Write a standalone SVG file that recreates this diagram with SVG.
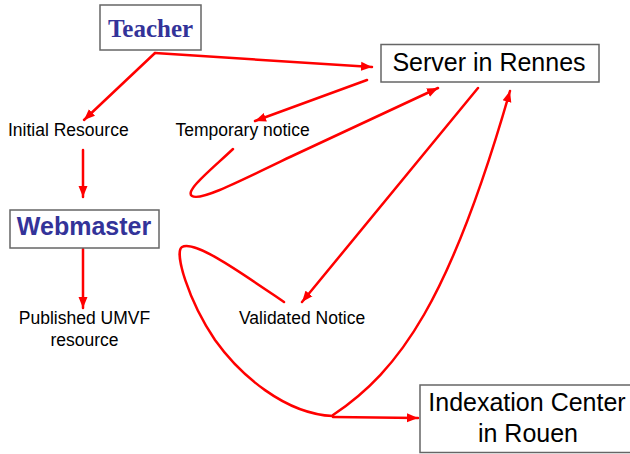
<svg xmlns="http://www.w3.org/2000/svg" width="630" height="454" viewBox="0 0 630 454">
<style>
.box{fill:#fff;stroke:#666;stroke-width:1.5}
.title{font-family:"Liberation Sans",Arial,sans-serif;font-size:25px;fill:#000}
.lbl{font-family:"Liberation Sans",Arial,sans-serif;font-size:17.5px;fill:#000}
.blue{fill:#333399;font-weight:bold}
.c{fill:none;stroke:#ff0000;stroke-width:2.5;stroke-linecap:round;stroke-linejoin:round}
</style>
<defs>
<marker id="ah" markerUnits="userSpaceOnUse" markerWidth="12" markerHeight="10" refX="11" refY="5" orient="auto">
<path d="M0,0.5 L11,5 L0,9.5 z" fill="#ff0000"/>
</marker>
</defs>
<rect width="630" height="454" fill="#fff"/>
<g id="connectors">
<path class="c" d="M155,53 L372,67" marker-end="url(#ah)"/>
<path class="c" d="M155,53 L84,120" marker-end="url(#ah)"/>
<path class="c" d="M83,150 L83,197" marker-end="url(#ah)"/>
<path class="c" d="M83,249 L83,308" marker-end="url(#ah)"/>
<path class="c" d="M367,80 L255,121" marker-end="url(#ah)"/>
<path class="c" d="M233,149 C213,168 184,191 192,196 C200,201 230,186 290,157 L438,88" marker-end="url(#ah)"/>
<path class="c" d="M478,88 L302,302" marker-end="url(#ah)"/>
<path class="c" d="M284,302 C240,272 195,240 182,247 C174,252 188,300 215,340 C240,375 285,414 333,416"/>
<path class="c" d="M333,417 L418,418" marker-end="url(#ah)"/>
<path class="c" d="M333,415 C400,370 450,300 510,91" marker-end="url(#ah)"/>
</g>
<g id="teacher">
<rect class="box" x="100" y="5" width="101" height="45"/>
<text x="150.5" y="37" text-anchor="middle" style="font-family:'Liberation Serif','Times New Roman',serif;font-size:25px;font-weight:bold;fill:#333399">Teacher</text>
</g>
<g id="server">
<rect class="box" x="381" y="44.5" width="218" height="37.5"/>
<text class="title" x="489" y="71" text-anchor="middle">Server in Rennes</text>
</g>
<g id="initial">
<text class="lbl" x="8" y="136">Initial Resource</text>
</g>
<g id="temporary">
<text class="lbl" x="175.5" y="136">Temporary notice</text>
</g>
<g id="webmaster">
<rect class="box" x="10" y="210" width="149" height="38"/>
<text class="title blue" x="84" y="234.5" text-anchor="middle">Webmaster</text>
</g>
<g id="published">
<text class="lbl" x="84.5" y="324" text-anchor="middle">Published UMVF</text>
<text class="lbl" x="84.5" y="346" text-anchor="middle">resource</text>
</g>
<g id="validated">
<text class="lbl" x="239" y="324">Validated Notice</text>
</g>
<g id="indexation">
<rect class="box" x="420" y="385" width="215" height="67.5"/>
<text class="title" x="527" y="410.5" text-anchor="middle">Indexation Center</text>
<text class="title" x="528" y="442" text-anchor="middle">in Rouen</text>
</g>
</svg>
